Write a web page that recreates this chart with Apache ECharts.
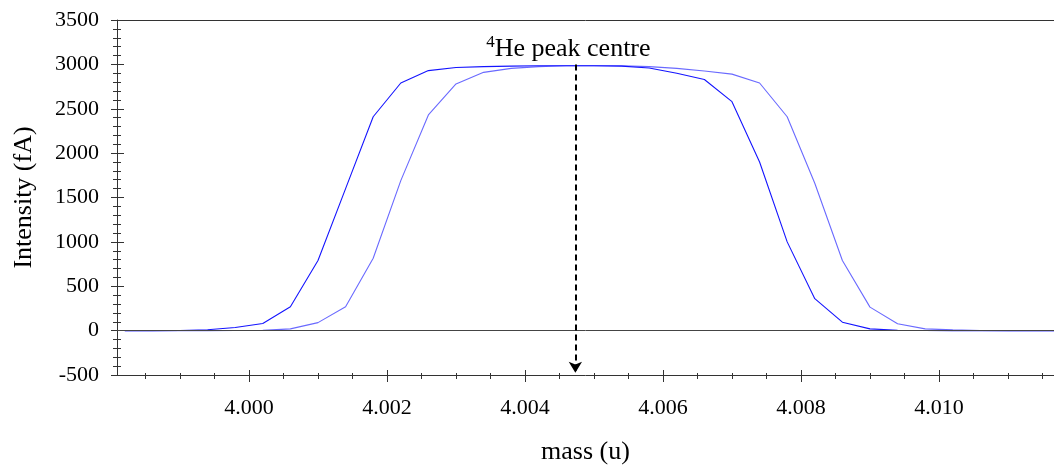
<!DOCTYPE html>
<html>
<head>
<meta charset="utf-8">
<script src="https://cdn.jsdelivr.net/npm/echarts@6/dist/echarts.min.js"></script>
<style>html,body{margin:0;padding:0;background:#fff}#c{width:1054px;height:466px}</style>
</head>
<body>
<div id="c"></div>
<script>
// mass (u) of each scan step
const mass = [3.9982, 3.9986, 3.9990, 3.9994, 3.9998, 4.0002, 4.0006, 4.0010, 4.0014, 4.0018,
  4.0022, 4.0026, 4.0030, 4.0034, 4.0038, 4.0042, 4.0046, 4.0050, 4.0054, 4.0058,
  4.0062, 4.0066, 4.0070, 4.0074, 4.0078, 4.0082, 4.0086, 4.0090, 4.0094, 4.0098,
  4.0102, 4.0106, 4.0110, 4.0114, 4.0118];
// intensity (fA), scan 1 (darker line)
const scan1 = [0, 0, 2, 10, 35, 80, 270, 790, 1600, 2410,
  2790, 2930, 2965, 2975, 2980, 2985, 2985, 2985, 2980, 2960,
  2900, 2830, 2580, 1900, 1000, 360, 95, 20, 5, 1,
  0, 0, 0, 0, 0];
// intensity (fA), scan 2 (lighter line)
const scan2 = [0, 0, 0, 0, 1, 3, 20, 90, 270, 815,
  1690, 2430, 2780, 2910, 2955, 2975, 2985, 2985, 2985, 2975,
  2955, 2925, 2890, 2790, 2410, 1660, 790, 265, 78, 20,
  8, 2, 0, 0, 0];
const peakCentre = 4.00473;
const xMajorTicks = [4.000, 4.002, 4.004, 4.006, 4.008, 4.010];
const xMinorTicks = [3.9985, 3.9990, 3.9995, 4.0005, 4.0010, 4.0015, 4.0025, 4.0030, 4.0035,
  4.0045, 4.0050, 4.0055, 4.0065, 4.0070, 4.0075, 4.0085, 4.0090, 4.0095, 4.0105, 4.0110, 4.0115];
const xMin = 3.998087, xMax = 4.011667;
const yMin = -500, yMax = 3500, yStep = 500;

const FONT = 'Liberation Serif';
const pairs = (ys) => mass.map((m, i) => [m, ys[i]]);
const axisCol = '#333';

function xAx(opts) {
  return Object.assign({
    type: 'value', min: xMin, max: xMax, position: 'bottom',
    splitLine: { show: false },
    axisLabel: { show: false }, axisTick: { show: false }
  }, opts, {
    axisLine: Object.assign({ show: false, onZero: false }, opts.axisLine || {}, { onZero: false })
  });
}
const allX = xMajorTicks.concat(xMinorTicks).sort((a, b) => a - b);

const chart = echarts.init(document.getElementById('c'), null, { renderer: 'canvas' });
chart.setOption({
  animation: false,
  backgroundColor: '#fff',
  grid: { left: 117, right: 0, top: 20, bottom: 91, containLabel: false, outerBoundsMode: 'none' },
  xAxis: [
    xAx({
      axisLine: { show: true, lineStyle: { color: axisCol, width: 1 } },
      axisTick: { show: true, customValues: allX, length: 4, lineStyle: { color: axisCol } },
      axisLabel: { show: true, customValues: xMajorTicks, formatter: v => v.toFixed(3),
        fontFamily: FONT, fontSize: 22, color: '#000', margin: 22 },
      name: 'mass (u)', nameLocation: 'middle', nameGap: 64,
      nameTextStyle: { fontFamily: FONT, fontSize: 26, color: '#000' }
    }),
    xAx({ axisTick: { show: true, customValues: xMajorTicks, length: 7, lineStyle: { color: axisCol } } }),
    xAx({ axisTick: { show: true, inside: true, customValues: allX, length: 2, lineStyle: { color: axisCol } } }),
    xAx({ axisTick: { show: true, inside: true, customValues: xMajorTicks, length: 5, lineStyle: { color: axisCol } } }),
    xAx({ position: 'top', axisLine: { show: true, lineStyle: { color: axisCol, width: 1 } } })
  ],
  yAxis: [
    {
      type: 'value', min: yMin, max: yMax, interval: yStep,
      axisLine: { show: true, onZero: false, lineStyle: { color: axisCol } },
      axisTick: { show: true, length: 6, lineStyle: { color: axisCol } },
      minorTick: { show: true, splitNumber: 5, length: 4, lineStyle: { color: axisCol } },
      splitLine: { show: false },
      axisLabel: { fontFamily: FONT, fontSize: 22, color: '#000', margin: 18, formatter: v => String(v) },
      name: 'Intensity (fA)', nameLocation: 'middle', nameGap: 80, nameRotate: 90,
      nameTextStyle: { fontFamily: FONT, fontSize: 26, color: '#000' }
    },
    {
      type: 'value', min: yMin, max: yMax, interval: yStep, position: 'left',
      axisLine: { show: false, onZero: false }, splitLine: { show: false }, axisLabel: { show: false },
      axisTick: { show: true, inside: true, length: 7, lineStyle: { color: axisCol } },
      minorTick: { show: true, splitNumber: 5, length: 4, lineStyle: { color: axisCol } }
    }
  ],
  series: [
    {
      type: 'line', data: pairs(scan2), showSymbol: false, z: 3,
      lineStyle: { color: '#6a6aff', width: 1.1 }
    },
    {
      type: 'line', data: pairs(scan1), showSymbol: false, z: 4,
      lineStyle: { color: '#1414ff', width: 1.1 },
      markLine: {
        silent: true, animation: false,
        data: [
          [{ coord: [xMin, 0], symbol: 'none' }, { coord: [xMax, 0], symbol: 'none' }]
        ],
        lineStyle: { color: '#444', width: 1, type: 'solid' },
        label: { show: false }
      }
    },
    {
      type: 'line', data: [], z: 6,
      markLine: {
        silent: true, animation: false, symbol: ['none', 'arrow'], symbolSize: [10, 11],
        data: [[{ coord: [peakCentre, 3000] }, { coord: [peakCentre, -475] }]],
        lineStyle: { color: '#000', width: 2, type: [6, 4] },
        label: { show: false }
      }
    },
    {
      type: 'scatter', data: [[peakCentre, 3000]], symbolSize: 0, z: 7, silent: true,
      itemStyle: { opacity: 1 },
      label: {
        show: true, position: 'top', distance: 1, offset: [-7, 0], color: '#000', opacity: 1,
        formatter: '{sup|4}{t|He peak centre}',
        rich: {
          sup: { fontFamily: FONT, fontSize: 17, color: '#000', verticalAlign: 'top', padding: [0, 0, 12, 0] },
          t: { fontFamily: FONT, fontSize: 26, color: '#000' }
        }
      }
    }
  ]
});
</script>
</body>
</html>
